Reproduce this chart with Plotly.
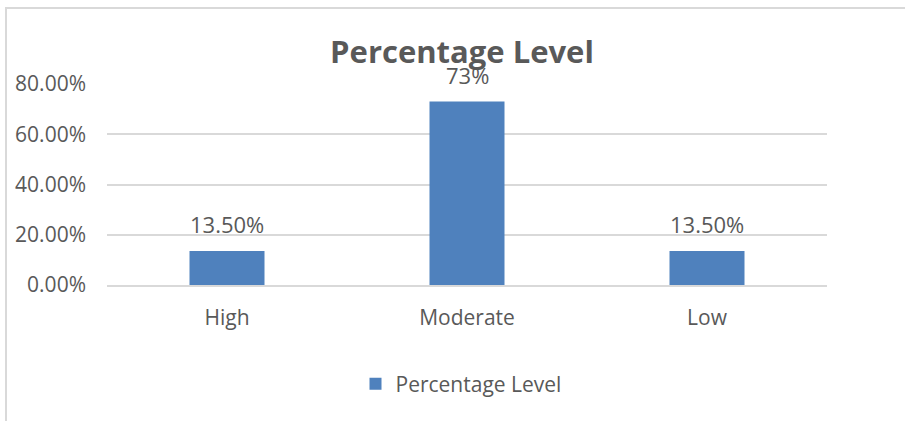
import plotly.graph_objects as go

categories = ["High", "Moderate", "Low"]
values = [0.135, 0.73, 0.135]
value_labels = ["13.50%", "73%", "13.50%"]
series_name = "Percentage Level"
tick_vals = [0, 0.2, 0.4, 0.6, 0.8]
tick_text = ["0.00%", "20.00%", "40.00%", "60.00%", "80.00%"]

W, H = 905, 421
L, R, T, B = 107, 827, 84, 285
FONT = "Open Sans"
GRAY = "#595959"
GRID = "#D9D9D9"

fig = go.Figure()
fig.add_trace(go.Bar(
    x=categories, y=values, name=series_name,
    marker=dict(color="#4F81BD", line=dict(width=0)),
    cliponaxis=False, showlegend=True,
))

for c, v, t in zip(categories, values, value_labels):
    fig.add_annotation(x=c, y=v, xref="x", yref="y", text=t, showarrow=False,
                       yanchor="middle", yshift=27,
                       font=dict(family=FONT, size=22, color=GRAY))

def px(x):
    return (x - L) / (R - L)

def py(y):
    return (B - y) / (B - T)

fig.update_layout(
    width=W, height=H,
    margin=dict(l=L, r=W - R, t=T, b=H - B, autoexpand=False),
    paper_bgcolor="white", plot_bgcolor="white",
    bargap=0.6875,
    title=dict(text="<b>Percentage Level</b>", xref="container", x=462 / W, xanchor="center",
               yref="container", y=1 - 52 / H, yanchor="middle",
               font=dict(family=FONT, size=31, color=GRAY)),
    showlegend=True,
    legend=dict(orientation="h", x=px(461), xanchor="center", y=py(384), yanchor="middle",
                font=dict(family=FONT, size=21, color=GRAY), itemwidth=30,
                bgcolor="rgba(0,0,0,0)"),
    yaxis=dict(range=[0, 0.8], tickvals=tick_vals, ticktext=tick_text,
               showgrid=True, gridcolor=GRID, gridwidth=1.5, zeroline=False,
               showline=False, ticks="", ticklabelstandoff=20,
               tickfont=dict(family=FONT, size=21, color=GRAY)),
    xaxis=dict(showgrid=False, showline=True, linecolor=GRID, linewidth=1.5,
               ticks="", ticklabelstandoff=13,
               tickfont=dict(family=FONT, size=21, color=GRAY)),
)

fig.add_shape(type="rect", xref="paper", yref="paper",
              x0=px(6), x1=px(950), y0=py(460), y1=py(8),
              line=dict(color=GRID, width=2), fillcolor="rgba(0,0,0,0)", layer="below")

fig.write_html("out.html")
